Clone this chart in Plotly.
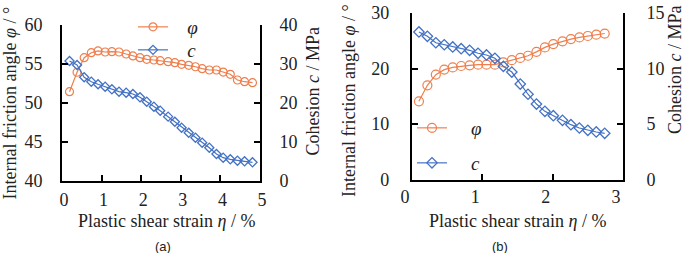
import plotly.graph_objects as go

# ---------------- data (a) ----------------
eta_a = [0.19, 0.38, 0.56, 0.74, 0.91, 1.09, 1.26, 1.44, 1.62, 1.79, 1.97, 2.14, 2.32, 2.48,
         2.68, 2.85, 3.02, 3.20, 3.37, 3.54, 3.72, 3.90, 4.07, 4.25, 4.43, 4.61, 4.81]
phi_a = [51.45, 53.94, 55.81, 56.45, 56.67, 56.54, 56.58, 56.54, 56.28, 56.03, 55.81, 55.6, 55.51, 55.42,
         55.3, 55.17, 54.96, 54.83, 54.65, 54.4, 54.23, 54.23, 53.97, 53.68, 52.95, 52.73, 52.6]
c_a = [30.77, 29.74, 26.6, 25.46, 24.8, 24.18, 23.51, 22.9, 22.64, 22.3, 21.46, 20.33, 19.05, 18.03,
       16.5, 15.2, 13.67, 12.38, 11.1, 9.82, 8.54, 6.92, 5.98, 5.56, 5.21, 5.05, 4.79]

# ---------------- data (b) ----------------
eta_b = [0.10, 0.22, 0.34, 0.46, 0.58, 0.70, 0.82, 0.94, 1.06, 1.18, 1.30, 1.42, 1.54, 1.65,
         1.77, 1.89, 2.01, 2.14, 2.26, 2.38, 2.50, 2.62, 2.74]
phi_b = [14.09, 16.97, 18.9, 19.8, 20.2, 20.45, 20.58, 20.69, 20.69, 20.69, 21.1, 21.5, 21.9, 22.3,
         23.0, 23.8, 24.4, 24.9, 25.3, 25.6, 25.86, 26.1, 26.3]
c_b = [13.29, 12.9, 12.32, 12.14, 11.94, 11.78, 11.64, 11.37, 11.22, 10.92, 10.2, 9.68, 8.6, 7.68,
       6.8, 6.14, 5.75, 5.33, 4.94, 4.64, 4.43, 4.28, 4.16]

x_ticks_a = [0, 1, 2, 3, 4, 5]
phi_ticks_a = [40, 45, 50, 55, 60]
c_ticks_a = [0, 10, 20, 30, 40]
x_ticks_b = [0, 1, 2, 3]
phi_ticks_b = [0, 10, 20, 30]
c_ticks_b = [0, 5, 10, 15]

ORANGE = "#EF7F4E"
BLUE = "#4472C4"
SERIF = "Liberation Serif"
NB = "\u00a0"

W, H = 685, 253
def px(x):
    return x / W
def py(y):
    return 1 - y / H

fig = go.Figure()

def add_pair(xs, phi, c, xa, ya_l, ya_r, leg_phi, leg_c, msize, nsp):
    fig.add_trace(go.Scatter(
        x=xs, y=c, xaxis=xa, yaxis=ya_r, mode="lines+markers",
        name=NB * nsp + "<i>c</i>", legend=leg_c,
        line=dict(color=BLUE, width=1.2),
        marker=dict(symbol="diamond-open", size=msize - 1, color=BLUE, line=dict(width=1.3, color=BLUE))))
    fig.add_trace(go.Scatter(
        x=xs, y=phi, xaxis=xa, yaxis=ya_l, mode="lines+markers",
        name=NB * nsp + "<i>φ</i>", legend=leg_phi,
        line=dict(color=ORANGE, width=1.2),
        marker=dict(symbol="circle-open", size=msize, color=ORANGE, line=dict(width=1.2, color=ORANGE))))

add_pair(eta_a, phi_a, c_a, "x", "y", "y2", "legend", "legend2", 8, 3)
add_pair(eta_b, phi_b, c_b, "x2", "y3", "y4", "legend3", "legend4", 9, 4)

axis_common = dict(showline=True, linecolor="black", linewidth=2, ticks="inside", ticklen=6,
                   tickwidth=1.5, tickcolor="black", showgrid=False, zeroline=False,
                   automargin=False,
                   tickfont=dict(family=SERIF, size=18, color="#222"))

leg_common = dict(xanchor="left", yanchor="middle", bgcolor="rgba(0,0,0,0)",
                  font=dict(family=SERIF, size=19, color="#222"))

fig.update_layout(
    width=W, height=H, margin=dict(l=0, r=0, t=0, b=0, autoexpand=False),
    paper_bgcolor="white", plot_bgcolor="white", showlegend=True,
    xaxis=dict(domain=[px(62), px(260)], range=[0, 5], tickvals=x_ticks_a, anchor="y",
               ticklabelstandoff=1, ticklabelshift=2, **axis_common),
    yaxis=dict(domain=[py(181), py(25)], range=[40, 60], tickvals=phi_ticks_a, anchor="x",
               ticklabelstandoff=14, **axis_common),
    yaxis2=dict(domain=[py(181), py(25)], range=[0, 40], tickvals=c_ticks_a, anchor="x",
                overlaying="y", side="right", ticklabelstandoff=14, **axis_common),
    xaxis2=dict(domain=[px(411.9), px(623)], range=[0, 3], tickvals=x_ticks_b, anchor="y3",
                ticklabelstandoff=0, ticklabelshift=-7, **axis_common),
    yaxis3=dict(domain=[py(179.5), py(13)], range=[0, 30], tickvals=phi_ticks_b, anchor="x2",
                ticklabelstandoff=17, **axis_common),
    yaxis4=dict(domain=[py(179.5), py(13)], range=[0, 15], tickvals=c_ticks_b, anchor="x2",
                overlaying="y3", side="right", ticklabelstandoff=18, **axis_common),
    legend=dict(x=px(133), y=py(27), **leg_common),
    legend2=dict(x=px(133), y=py(50), **leg_common),
    legend3=dict(x=px(412), y=py(128), **leg_common),
    legend4=dict(x=px(412), y=py(163), **leg_common),
)

title_font = dict(family=SERIF, size=18, color="#222")
ann = [
    dict(x=px(9.5), y=py(103), text="Internal friction angle <i>φ</i> / °", textangle=-90),
    dict(x=px(312.5), y=py(91), text="Cohesion <i>c</i> / MPa", textangle=-90),
    dict(x=px(349), y=py(101), text="Internal friction angle <i>φ</i> / °", textangle=-90),
    dict(x=px(675), y=py(70), text="Cohesion <i>c</i> / MPa", textangle=-90),
    dict(x=px(166), y=py(221), text="Plastic shear strain <i>η</i> / %", textangle=0),
    dict(x=px(517), y=py(221), text="Plastic shear strain <i>η</i> / %", textangle=0),
]
for a in ann:
    fig.add_annotation(xref="paper", yref="paper", xanchor="center", yanchor="middle",
                       showarrow=False, font=title_font, **a)
for x, t in [(163, "(a)"), (500, "(b)")]:
    fig.add_annotation(xref="paper", yref="paper", x=px(x), y=py(246), text=t, showarrow=False,
                       xanchor="center", yanchor="middle",
                       font=dict(family="Liberation Sans", size=13, color="#222"))

fig.write_html("out.html", config={"displayModeBar": False},
               post_script="document.body.style.margin='0';document.body.style.padding='0';")
